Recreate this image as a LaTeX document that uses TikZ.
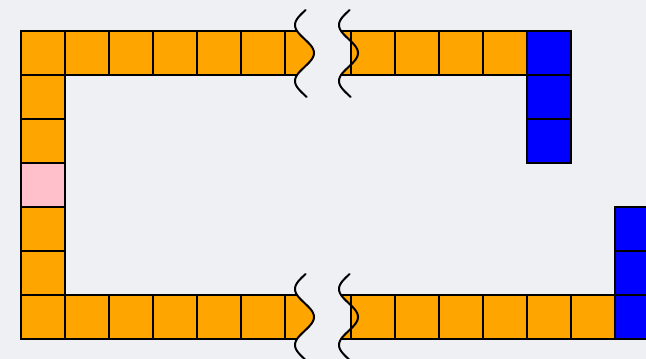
\documentclass[tikz,border=0pt]{standalone}
\usepackage{tikz}
\definecolor{bggray}{HTML}{EFF0F4}
\definecolor{cellorange}{HTML}{FFA500}
\definecolor{cellblue}{HTML}{0000FF}
\definecolor{cellpink}{HTML}{FFC0CB}

\begin{document}
\begin{tikzpicture}[
  x=1pt, y=-1pt,
  cell/.style={draw=black, line width=2pt, fill=cellorange},
  bluecell/.style={cell, fill=cellblue},
  pinkcell/.style={cell, fill=cellpink},
  wave/.style={draw=black, line width=2pt, line cap=round},
  % one break line: #1 = centre x, #2 = centre y of the row
  wavepath/.style 2 args={insert path={plot[variable=\t, domain=#2-43:#2+44, samples=60, smooth] ({#1+9.5*cos(6.43*(\t-#2))}, \t)}}
]
  \fill[bggray] (0,0) rectangle (646,359);
  \useasboundingbox (0,0) rectangle (646,359);
  % left column
  \foreach \r in {1,2,4,5}
    \draw[cell] (21,{31+44*\r}) rectangle ++(44,44);
  \draw[pinkcell] (21,163) rectangle ++(44,44);
  % top and bottom rows, left part
  \foreach \c in {0,...,5} {
    \draw[cell] ({21+44*\c},31) rectangle ++(44,44);
    \draw[cell] ({21+44*\c},295) rectangle ++(44,44);
  }
  % top row, right part
  \foreach \c in {0,...,3}
    \draw[cell] ({351+44*\c},31) rectangle ++(44,44);
  \foreach \r in {0,1,2}
    \draw[bluecell] (527,{31+44*\r}) rectangle ++(44,44);
  % bottom row, right part
  \foreach \c in {0,...,5}
    \draw[cell] ({351+44*\c},295) rectangle ++(44,44);
  \foreach \r in {0,1,2}
    \draw[bluecell] (615,{207+44*\r}) rectangle ++(44,44);
  % cut cells and break lines
  \foreach \yc/\ytop in {53/31, 317/295} {
    \begin{scope}
      \clip[wavepath={304.5}{\yc}] -- (200,{\yc+60}) -- (200,{\yc-60}) -- cycle;
      \draw[cell] (285,\ytop) rectangle ++(44,44);
    \end{scope}
    \begin{scope}
      \clip[wavepath={348.5}{\yc}] -- (420,{\yc+60}) -- (420,{\yc-60}) -- cycle;
      \draw[cell] (307,\ytop) rectangle ++(44,44);
    \end{scope}
    \draw[wave, wavepath={304.5}{\yc}];
    \draw[wave, wavepath={348.5}{\yc}];
  }
\end{tikzpicture}
\end{document}
